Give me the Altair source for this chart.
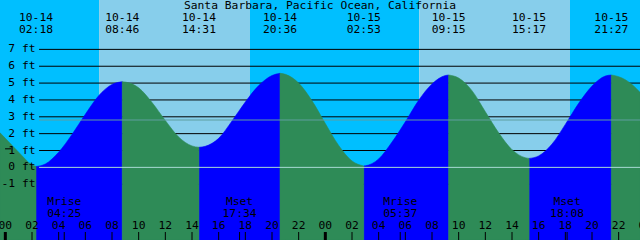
import altair as alt
import pandas as pd

# ---------------- data ----------------
title_text = "Santa Barbara, Pacific Ocean, California"

# hours since 10-14 00:00, tide level in feet
curve_hours = [-0.4, 0, 1, 2, 2.3, 3, 4, 5, 6, 7, 8, 8.77, 9, 10, 11, 12, 13, 14, 14.52,
               15, 16, 17, 18, 19, 20, 20.6, 21, 22, 23, 24, 25, 26, 26.88, 27, 28, 29,
               30, 31, 32, 33, 33.25, 34, 35, 36, 37, 38, 39, 39.28, 40, 41, 42, 43, 44,
               45, 45.45, 46, 47, 47.6]
curve_ft = [2.05, 1.72, 0.9, 0.15, 0.05, 0.2, 0.9, 1.95, 3.15, 4.25, 4.92, 5.08, 5.06, 4.72,
            3.85, 2.78, 1.8, 1.27, 1.19, 1.25, 1.72, 2.75, 3.88, 4.85, 5.45, 5.58, 5.52, 5.0,
            3.95, 2.6, 1.3, 0.38, 0.08, 0.09, 0.5, 1.5, 2.7, 3.98, 4.95, 5.45, 5.48, 5.3,
            4.55, 3.3, 2.05, 1.05, 0.57, 0.53, 0.68, 1.38, 2.55, 3.8, 4.82, 5.42, 5.48, 5.38,
            4.92, 4.45]

ext_hours = [2.3, 8.77, 14.52, 20.6, 26.88, 33.25, 39.28, 45.45]
ext_dates = ["10-14", "10-14", "10-14", "10-14", "10-15", "10-15", "10-15", "10-15"]
ext_times = ["02:18", "08:46", "14:31", "20:36", "02:53", "09:15", "15:17", "21:27"]

sunrise_hours = [7.03, 31.05]
sunset_hours = [18.35, 42.35]

moon_names = ["Mrise", "Mset", "Mrise", "Mset"]
moon_times = ["04:25", "17:34", "05:37", "18:08"]
moon_hours = [4.417, 17.567, 29.617, 42.133]

tick_hours = [0, 2, 4, 6, 8, 10, 12, 14, 16, 18, 20, 22, 24, 26, 28, 30, 32, 34, 36, 38,
              40, 42, 44, 46, 48]
tick_labels = ["00", "02", "04", "06", "08", "10", "12", "14", "16", "18", "20", "22",
               "00", "02", "04", "06", "08", "10", "12", "14", "16", "18", "20", "22", "00"]
midnight_hours = [0, 24, 48]

grid_levels = [1, 2, 3, 4, 5, 6, 7, -1]
label_levels = [7, 6, 5, 4, 3, 2, 1, 0, -1]
label_texts = ["7 ft", "6 ft", "5 ft", "4 ft", "3 ft", "2 ft", "1 ft", "0 ft", "-1 ft"]
msl_ft = 2.81
datum_ft = 0.0
mark_ft = 1.1
mark_hours = [-0.02, 0.43]

x_start, x_end = -0.4, 47.6
y_min, y_max = -4.31, 9.93
line_start_hour = 2.53

# ---------------- styling ----------------
FONT = "DejaVu Sans Mono"
FS = 11.3
DAY = "#87CEEB"
NIGHT = "#00BFFF"
FLOOD = "#0000FF"
EBB = "#2E8B57"
MSL_COLOR = "#5F9EA0"
DATUM_COLOR = "#A8DCD4"

xs = alt.Scale(domain=[x_start, x_end], nice=False, zero=False)
ys = alt.Scale(domain=[y_min, y_max], nice=False, zero=False)
X = lambda f: alt.X(f, scale=xs, axis=None)
Y = lambda f: alt.Y(f, scale=ys, axis=None)

# ---------------- tables ----------------
bounds = [x_start] + ext_hours + [x_end]
rows = []
for i in range(len(bounds) - 1):
    a, b = bounds[i], bounds[i + 1]
    pts = [(h, f) for h, f in zip(curve_hours, curve_ft) if a - 1e-9 <= h <= b + 1e-9]
    phase = "flood" if pts[-1][1] > pts[0][1] else "ebb"
    for h, f in pts:
        rows.append({"hour": h, "ft": f, "base": y_min, "seg": i, "phase": phase})
tide = pd.DataFrame(rows)

night = pd.DataFrame({"a": [x_start, sunset_hours[0], sunset_hours[1]],
                      "b": [sunrise_hours[0], sunrise_hours[1], x_end]})
day = pd.DataFrame({"a": sunrise_hours, "b": sunset_hours})
grid = pd.DataFrame({"ft": grid_levels, "a": line_start_hour, "b": x_end})
special = pd.DataFrame({"ft": [msl_ft, datum_ft], "a": line_start_hour, "b": x_end,
                        "kind": ["msl", "datum"]})
ylabels = pd.DataFrame({"ft": label_levels, "t": label_texts})
ext = pd.DataFrame({"hour": ext_hours, "d": ext_dates, "t": ext_times})
moon = pd.DataFrame({"hour": moon_hours, "n": moon_names, "t": moon_times})
ticks = pd.DataFrame({"hour": tick_hours, "t": tick_labels})
thin_ticks = pd.DataFrame({"hour": [h for h in tick_hours if h not in midnight_hours] + moon_hours})
thick_ticks = pd.DataFrame({"hour": midnight_hours})
mark = pd.DataFrame({"a": [mark_hours[0]], "b": [mark_hours[1]], "ft": [mark_ft]})
title_df = pd.DataFrame({"t": [title_text]})

# ---------------- layers ----------------
night_l = alt.Chart(night).mark_rect(color=NIGHT, clip=True).encode(
    x=X("a:Q"), x2="b:Q", y=alt.value(0), y2=alt.value(240))
day_l = alt.Chart(day).mark_rect(color=DAY, clip=True).encode(
    x=X("a:Q"), x2="b:Q", y=alt.value(0), y2=alt.value(240))
grid_l = alt.Chart(grid).mark_rule(color="black", strokeWidth=1, clip=True).encode(
    x=X("a:Q"), x2="b:Q", y=Y("ft:Q"))


def tide_layer(phase, col):
    return alt.Chart(tide).transform_filter(alt.datum.phase == phase).mark_area(
        interpolate="monotone", orient="vertical", color=col, stroke=col,
        strokeWidth=0.6, clip=True).encode(
        x=X("hour:Q"), y=Y("ft:Q"), y2="base:Q", detail="seg:N")


flood_l = tide_layer("flood", FLOOD)
ebb_l = tide_layer("ebb", EBB)

msl_l = alt.Chart(special).transform_filter(alt.datum.kind == "msl").mark_rule(
    color=MSL_COLOR, strokeWidth=1, clip=True).encode(x=X("a:Q"), x2="b:Q", y=Y("ft:Q"))
datum_l = alt.Chart(special).transform_filter(alt.datum.kind == "datum").mark_rule(
    color=DATUM_COLOR, strokeWidth=1, clip=True).encode(x=X("a:Q"), x2="b:Q", y=Y("ft:Q"))
mark_l = alt.Chart(mark).mark_rule(color="black", strokeWidth=1).encode(
    x=X("a:Q"), x2="b:Q", y=Y("ft:Q"))

txt = dict(font=FONT, fontSize=FS, color="black")
ylab_l = alt.Chart(ylabels).mark_text(align="right", baseline="middle", **txt).encode(
    x=alt.value(35.5), y=Y("ft:Q"), text="t:N")
title_l = alt.Chart(title_df).mark_text(align="center", baseline="middle", **txt).encode(
    x=alt.value(320), y=alt.value(6), text="t:N")
extd_l = alt.Chart(ext).mark_text(align="center", baseline="middle", **txt).encode(
    x=X("hour:Q"), y=alt.value(17.5), text="d:N")
extt_l = alt.Chart(ext).mark_text(align="center", baseline="middle", **txt).encode(
    x=X("hour:Q"), y=alt.value(30), text="t:N")
moonn_l = alt.Chart(moon).mark_text(align="center", baseline="middle", **txt).encode(
    x=X("hour:Q"), y=alt.value(202), text="n:N")
moont_l = alt.Chart(moon).mark_text(align="center", baseline="middle", **txt).encode(
    x=X("hour:Q"), y=alt.value(213.5), text="t:N")
tickl_l = alt.Chart(ticks).mark_text(align="center", baseline="middle", **txt).encode(
    x=X("hour:Q"), y=alt.value(226), text="t:N")
thin_l = alt.Chart(thin_ticks).mark_rule(color="black", strokeWidth=1).encode(
    x=X("hour:Q"), y=alt.value(232), y2=alt.value(240))
thick_l = alt.Chart(thick_ticks).mark_rule(color="black", strokeWidth=3).encode(
    x=X("hour:Q"), y=alt.value(232), y2=alt.value(240))

chart = alt.layer(
    night_l, day_l, grid_l, flood_l, ebb_l, msl_l, datum_l, mark_l,
    ylab_l, title_l, extd_l, extt_l, moonn_l, moont_l, tickl_l, thin_l, thick_l
).properties(
    width=640, height=240, autosize="none", padding=0
).configure_view(strokeWidth=0)

chart.save("out.html", embed_options={"renderer": "svg", "actions": False})
